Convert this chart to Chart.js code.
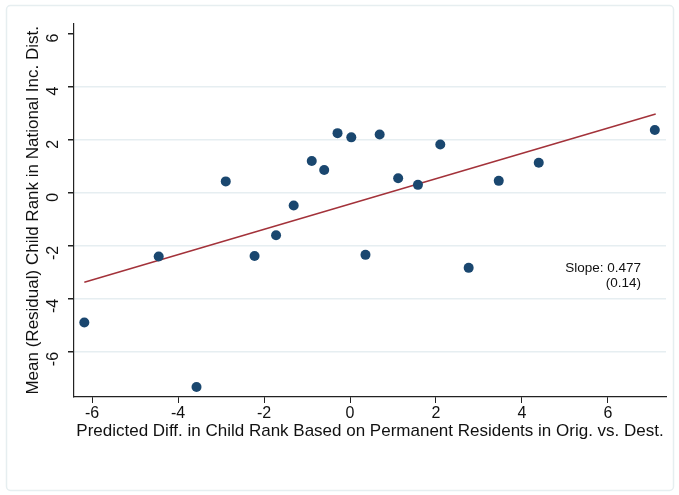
<!DOCTYPE html>
<html>
<head>
<meta charset="utf-8">
<script src="https://cdn.jsdelivr.net/npm/chart.js@4/dist/chart.umd.min.js"></script>
<style>
html,body{margin:0;padding:0;background:#fff;}
#wrap{width:679px;height:495px;position:relative;}
</style>
</head>
<body>
<div id="wrap"><canvas id="c" width="679" height="495"></canvas></div>
<script>
const xValues = [-6.18,-4.45,-3.57,-2.89,-2.22,-1.72,-1.31,-0.89,-0.60,-0.29,0.03,0.36,0.69,1.12,1.58,2.10,2.76,3.46,4.39,7.09];
const yValues = [-4.89,-2.40,-7.32,0.43,-2.38,-1.60,-0.48,1.20,0.86,2.25,2.09,-2.34,2.20,0.55,0.30,1.82,-2.83,0.45,1.13,2.37];
const fitX = [-6.18, 7.11];
const fitY = [-3.37, 2.97];
const xTicks = [-6,-4,-2,0,2,4,6];
const yTicks = [-6,-4,-2,0,2,4,6];
const xTitle = "Predicted Diff. in Child Rank Based on Permanent Residents in Orig. vs. Dest.";
const yTitle = "Mean (Residual) Child Rank in National Inc. Dist.";
const noteLines = ["Slope: 0.477", "(0.14)"];
const notePos = {x: 6.77, y: [-2.83, -3.4]};

const FONT = "'Liberation Sans', Arial, sans-serif";

const borderPlugin = {
  id: 'outerBorder',
  beforeDraw(chart) {
    const ctx = chart.ctx;
    ctx.save();
    ctx.fillStyle = '#ffffff';
    ctx.fillRect(0,0,chart.width,chart.height);
    ctx.strokeStyle = '#e6eef0';
    ctx.lineWidth = 1.5;
    ctx.beginPath();
    if (ctx.roundRect) ctx.roundRect(6.5,5.5,667,485,4); else ctx.rect(6.5,5.5,667,485);
    ctx.stroke();
    ctx.restore();
  },
  afterDraw(chart) {
    const ctx = chart.ctx;
    const xs = chart.scales.x, ys = chart.scales.y;
    ctx.save();
    ctx.fillStyle = '#111';
    ctx.font = "13.5px " + FONT;
    ctx.textAlign = 'right';
    ctx.textBaseline = 'middle';
    const px = xs.getPixelForValue(notePos.x);
    noteLines.forEach((t,i)=>{
      ctx.fillText(t, px, ys.getPixelForValue(notePos.y[i]));
    });
    ctx.restore();
  }
};

new Chart(document.getElementById('c'), {
  type: 'scatter',
  data: {
    datasets: [
      {
        type: 'line',
        data: fitX.map((x,i)=>({x, y: fitY[i]})),
        borderColor: '#a3323a',
        borderWidth: 1.5,
        pointRadius: 0,
        fill: false,
        order: 2
      },
      {
        data: xValues.map((x,i)=>({x, y: yValues[i]})),
        backgroundColor: '#1a476f',
        borderColor: '#1a476f',
        pointRadius: 5,
        borderWidth: 0,
        order: 1
      }
    ]
  },
  plugins: [borderPlugin],
  options: {
    responsive: false,
    animation: false,
    devicePixelRatio: 1,
    layout: { padding: { left: 0, right: 13, top: 23, bottom: 53 } },
    plugins: { legend: { display: false }, tooltip: { enabled: false } },
    scales: {
      x: {
        type: 'linear',
        min: -6.42, max: 7.35,
        afterBuildTicks(s){ s.ticks = xTicks.map(v=>({value:v})); },
        afterFit(s){ s.height = 45; },
        grid: { display: true, drawOnChartArea: false, drawTicks: true, tickLength: 6, tickColor: '#222', color: '#222' },
        border: { display: true, color: '#222', width: 1.2 },
        ticks: { color: '#111', font: { size: 16, family: FONT }, padding: 1, maxRotation: 0, minRotation: 0 },
        title: { display: true, text: xTitle, color: '#111', font: { size: 17, family: FONT }, padding: { top: 0, bottom: 0 } }
      },
      y: {
        type: 'linear',
        min: -7.7, max: 6.38,
        afterBuildTicks(s){ s.ticks = yTicks.map(v=>({value:v})); },
        afterFit(s){ s.width = 74; },
        grid: {
          display: true, drawTicks: true, tickLength: 6,
          color: (c)=> (c.tick && c.tick.value === 6) ? 'rgba(0,0,0,0)' : '#e6eef1',
          tickColor: '#222', lineWidth: 1.5
        },
        border: { display: true, color: '#222', width: 1.2 },
        ticks: { color: '#111', font: { size: 16, family: FONT }, padding: 14, minRotation: 90, maxRotation: 90 },
        title: { display: true, text: yTitle, color: '#111', font: { size: 17, family: FONT }, padding: { top: 23, bottom: 2 } }
      }
    }
  }
});
</script>
</body>
</html>
